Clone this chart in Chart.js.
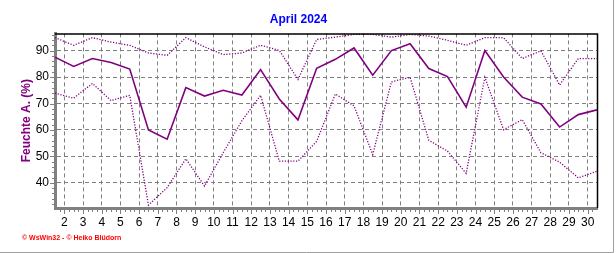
<!DOCTYPE html>
<html>
<head>
<meta charset="utf-8">
<script src="https://cdn.jsdelivr.net/npm/chart.js@4/dist/chart.umd.min.js"></script>
<style>
  html, body { margin: 0; padding: 0; background: #fff; }
  #wrap { position: relative; width: 616px; height: 253px; }
</style>
</head>
<body>
<div id="wrap"><canvas id="chart" width="616" height="253"></canvas></div>
<script>
// Daily humidity values, April 2024
const days = [1, 2, 3, 4, 5, 6, 7, 8, 9, 10, 11, 12, 13, 14, 15, 16, 17, 18, 19, 20, 21, 22, 23, 24, 25, 26, 27, 28, 29, 30];
const humMean = [87.5, 84, 87, 85.5, 83, 60, 56.5, 76, 72.8, 75, 73.2, 82.8, 71.7, 63.8, 83.3, 86.7, 91, 80.7, 90, 92.6, 83.2, 80.2, 68.6, 90, 80, 72.4, 69.8, 61.1, 65.8, 67.6];
const humMax = [94.9, 92, 94.9, 93.2, 92, 89.1, 88.2, 94.9, 91.4, 88.5, 89.1, 92, 90.1, 79.1, 94.2, 95.1, 96.1, 96.1, 95.1, 96.1, 95.5, 93.9, 92, 94.9, 94.9, 87, 89.9, 77, 87, 87];
const humMin = [73.9, 72, 77.6, 71.1, 73.1, 31.6, 38.2, 49.1, 38.8, 51.4, 63.5, 73.1, 48.2, 48.2, 55.7, 73.6, 69.1, 50.7, 78.2, 79.9, 56.1, 52, 43.6, 79.9, 60.1, 63.9, 51.4, 47.8, 41.9, 44.4];

// tick labels
const xTicks = [2, 3, 4, 5, 6, 7, 8, 9, 10, 11, 12, 13, 14, 15, 16, 17, 18, 19, 20, 21, 22, 23, 24, 25, 26, 27, 28, 29, 30];
const yTicks = [40, 50, 60, 70, 80, 90];

const PURPLE = '#800080';
const GRID = '#808080';

// daily values sit at noon of each day
const toPoints = (vals) => days.map((d, i) => ({ x: d + 0.5, y: vals[i] }));

// Frame, minor ticks, window border and footer text
const decorPlugin = {
    id: 'decor',
    afterDraw(chart) {
        const ctx = chart.ctx;
        const area = chart.chartArea;
        const xs = chart.scales.x;
        const ys = chart.scales.y;
        ctx.save();

        // black top/right frame
        ctx.strokeStyle = '#000';
        ctx.lineWidth = 1.5;
        ctx.beginPath();
        ctx.moveTo(area.left, area.top + 0.5);
        ctx.lineTo(area.right + 0.5, area.top + 0.5);
        ctx.lineTo(area.right + 0.5, area.bottom);
        ctx.stroke();

        // x minor ticks (every 6 hours) and major ticks
        ctx.strokeStyle = GRID;
        ctx.lineWidth = 1;
        ctx.beginPath();
        for (let v = 1.75; v < 30.5; v += 0.25) {
            const px = Math.round(xs.getPixelForValue(v)) + 0.5;
            const major = Math.abs(v - Math.round(v)) < 0.01;
            ctx.moveTo(px, area.bottom + 1);
            ctx.lineTo(px, area.bottom + (major ? 6 : 4));
        }
        // y minor ticks (every 2 %)
        for (let v = 32; v < 96.5; v += 2) {
            const py = Math.round(ys.getPixelForValue(v)) + 0.5;
            const major = v % 10 === 0;
            ctx.moveTo(area.left - 1, py);
            ctx.lineTo(area.left - (major ? 5 : 3), py);
        }
        ctx.stroke();

        // window border
        ctx.strokeStyle = '#a0a0a0';
        ctx.beginPath();
        ctx.moveTo(613.5, 0);
        ctx.lineTo(613.5, 252.5);
        ctx.lineTo(0, 252.5);
        ctx.stroke();

        // footer
        ctx.fillStyle = '#ff0000';
        ctx.font = 'bold 7px "Liberation Sans", Arial, sans-serif';
        ctx.textBaseline = 'middle';
        ctx.textAlign = 'left';
        ctx.fillText('\u00a9 WsWin32 - \u00a9 Heiko Bl\u00fcdorn', 22, 238.5);
        ctx.restore();
    }
};

const ctx = document.getElementById('chart').getContext('2d');
const chart = new Chart(ctx, {
    type: 'line',
    data: {
        datasets: [{
            label: 'Maximum',
            data: toPoints(humMax),
            borderColor: PURPLE,
            borderWidth: 1.3,
            borderDash: [1.2, 1.6],
            pointRadius: 0,
            tension: 0
        }, {
            label: 'Mittel',
            data: toPoints(humMean),
            borderColor: PURPLE,
            borderWidth: 1.6,
            pointRadius: 0,
            tension: 0
        }, {
            label: 'Minimum',
            data: toPoints(humMin),
            borderColor: PURPLE,
            borderWidth: 1.3,
            borderDash: [1.2, 1.6],
            pointRadius: 0,
            tension: 0
        }]
    },
    options: {
        responsive: false,
        animation: false,
        layout: { padding: { left: 0, right: 19, top: 0, bottom: 0 } },
        plugins: {
            legend: { display: false },
            tooltip: { enabled: false },
            title: {
                display: true,
                text: 'April 2024',
                color: '#0000ff',
                font: { family: '"Liberation Sans", Arial, sans-serif', size: 12, weight: 'bold' },
                padding: { top: 12, bottom: 7 }
            }
        },
        scales: {
            x: {
                type: 'linear',
                min: 1.5,
                max: 30.5,
                afterBuildTicks: (scale) => { scale.ticks = xTicks.map(v => ({ value: v })); },
                afterFit: (scale) => { scale.height = 45; },
                ticks: {
                    color: '#000',
                    font: { family: '"Liberation Sans", Arial, sans-serif', size: 12 },
                    padding: 7,
                    maxRotation: 0,
                    autoSkip: false
                },
                grid: { color: GRID, drawTicks: false },
                border: { color: GRID, width: 3, dash: [4, 3] }
            },
            y: {
                min: 30.5,
                max: 96.5,
                afterBuildTicks: (scale) => { scale.ticks = yTicks.map(v => ({ value: v })); },
                afterFit: (scale) => { scale.width = 55; },
                ticks: {
                    color: '#000',
                    font: { family: '"Liberation Sans", Arial, sans-serif', size: 12 },
                    padding: 6
                },
                grid: { color: GRID, drawTicks: false },
                border: { color: GRID, width: 3, dash: [4, 3] },
                title: {
                    display: true,
                    text: 'Feuchte A. (%)',
                    color: PURPLE,
                    font: { family: '"Liberation Sans", Arial, sans-serif', size: 12, weight: 'bold' },
                    padding: { top: 19, bottom: 0 }
                }
            }
        }
    },
    plugins: [decorPlugin]
});
</script>
</body>
</html>
